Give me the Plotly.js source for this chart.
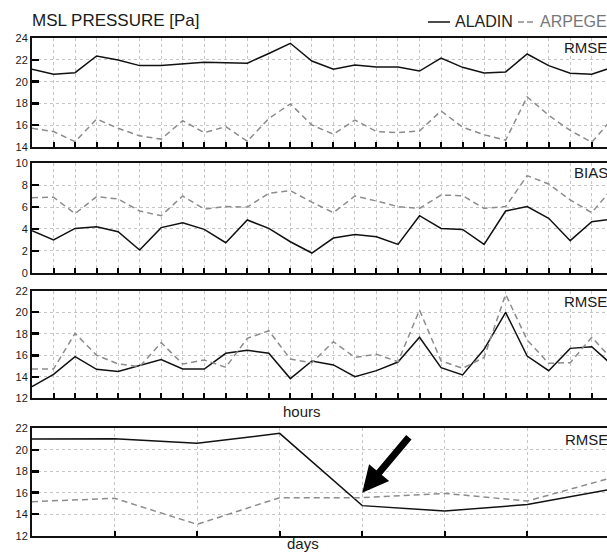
<!DOCTYPE html>
<html>
<head>
<meta charset="utf-8">
<script src="https://cdn.plot.ly/plotly-3.0.1.min.js"></script>
<style>
  html, body { margin: 0; padding: 0; background: #fff; overflow: hidden; }
  #chart { width: 607px; height: 552px; }
</style>
</head>
<body>
<div id="chart"></div>
<script>
// ---- data ----
const hours = [0,1,2,3,4,5,6,7,8,9,10,11,12,13,14,15,16,17,18,19,20,21,22,23,24,25,26,27];
const days  = [0,1,2,3,4,5,6,7];

const aladinRmseHours = [21.14,20.68,20.83,22.37,22.0,21.48,21.48,21.66,21.8,21.75,21.7,22.6,23.54,21.9,21.14,21.54,21.35,21.35,20.98,22.18,21.32,20.8,20.9,22.55,21.48,20.77,20.68,21.35];
const arpegeRmseHours = [15.7,15.4,14.46,16.55,15.7,15.0,14.7,16.4,15.3,15.85,14.5,16.6,17.95,16.0,15.15,16.46,15.4,15.3,15.45,17.3,15.8,15.1,14.6,18.6,16.9,15.5,14.4,16.7];

const aladinBiasHours = [3.84,2.99,4.05,4.2,3.75,2.07,4.12,4.57,3.96,2.74,4.82,4.05,2.83,1.8,3.17,3.5,3.29,2.59,5.21,4.05,3.96,2.59,5.64,6.04,4.97,2.93,4.66,4.9];
const arpegeBiasHours = [6.86,6.9,5.4,6.95,6.74,5.64,5.21,7.01,5.82,6.04,6.0,7.26,7.5,6.45,5.49,7.01,6.55,6.04,5.88,7.1,7.04,5.88,6.04,8.87,8.11,6.65,5.49,7.8];

const aladinRmse2Hours = [13.08,14.23,15.87,14.69,14.5,15.07,15.6,14.72,14.72,16.18,16.46,16.18,13.83,15.47,15.1,14.0,14.57,15.37,17.67,14.85,14.17,16.55,19.99,15.93,14.57,16.64,16.8,15.0];
const arpegeRmse2Hours = [14.72,14.72,18.04,16.0,15.19,14.94,17.17,15.19,15.56,14.88,17.57,18.28,15.65,15.3,17.26,15.8,16.1,15.4,20.2,15.47,14.79,15.8,21.66,17.42,15.25,15.31,17.67,15.5];

const aladinRmseDays = [21.0,21.03,20.6,21.53,14.8,14.3,14.9,16.3];
const arpegeRmseDays = [15.17,15.48,13.06,15.54,15.54,15.94,15.23,17.35];

const seriesNames = ['ALADIN','ARPEGE'];
const panelLabels = ['RMSE','BIAS','RMSE','RMSE'];
const xAxisLabels = ['hours','days'];
const chartTitle = 'MSL PRESSURE [Pa]';
const arrowTip  = {day: 4.0, value: 16.0};
const arrowTail = {day: 4.58, value: 21.3};

// ---- styling ----
const FONT = 'Liberation Sans, Arial, Helvetica, sans-serif';
const solid = {color:'#111', width:1.5};
const dashed = {color:'#8c8c8c', width:1.5, dash:'6px,4px'};

function pair(x, a, b, xa, ya) {
  return [
    {x:x, y:a, xaxis:xa, yaxis:ya, type:'scatter', mode:'lines', line:solid, name:seriesNames[0], hoverinfo:'skip'},
    {x:x, y:b, xaxis:xa, yaxis:ya, type:'scatter', mode:'lines', line:dashed, name:seriesNames[1], hoverinfo:'skip'}
  ];
}

const traces = [].concat(
  pair(hours, aladinRmseHours, arpegeRmseHours, 'x', 'y'),
  pair(hours, aladinBiasHours, arpegeBiasHours, 'x2', 'y2'),
  pair(hours, aladinRmse2Hours, arpegeRmse2Hours, 'x3', 'y3'),
  pair(days, aladinRmseDays, arpegeRmseDays, 'x4', 'y4')
);

const H = 552, W = 607, L = 32;
function px2py(p){ return 1 - p/H; }
function px2pxp(p){ return (p - L)/(W - L); }

function xax(anchor, range, dtick){
  return {anchor:anchor, domain:[0,1], range:range, tickmode:'linear', tick0:0, dtick:dtick,
    ticks:'inside', ticklen:5, tickwidth:2, tickcolor:'#000', showticklabels:false,
    showline:true, linewidth:2, linecolor:'#111', mirror:true,
    showgrid:true, gridcolor:'#c6c6c6', gridwidth:1, griddash:'3px,3px', zeroline:false, fixedrange:true};
}
function yax(anchor, range, domPx){
  return {anchor:anchor, domain:[px2py(domPx[1]), px2py(domPx[0])], range:range, tickmode:'linear', tick0:range[0], dtick:2,
    ticks:'inside', ticklen:7, tickwidth:2.5, tickcolor:'#000',
    tickfont:{size:11, color:'#1a1a1a', family:FONT},
    showline:true, linewidth:2, linecolor:'#111', mirror:false,
    showgrid:true, gridcolor:'#c6c6c6', gridwidth:1, griddash:'3px,3px', zeroline:false, fixedrange:true};
}

const hoursRange = [0, (W - 31.7)/21.54];
const daysRange = [0, (W - 31.7)/82.6];

function label(text, xpx, ypx, size, anchor, color){
  return {text:text, x:px2pxp(xpx), y:px2py(ypx), xref:'paper', yref:'paper',
    xanchor:anchor||'left', yanchor:'middle', showarrow:false,
    font:{family:FONT, size:size, color:color||'#1a1a1a'}};
}

const layout = {
  width:W, height:H,
  margin:{l:L, r:0, t:0, b:0, pad:0},
  paper_bgcolor:'#fff', plot_bgcolor:'#fff',
  showlegend:false,
  font:{family:FONT, color:'#222'},
  title:{text:chartTitle, xref:'container', yref:'container', x:32/W, y:1-20/H,
         xanchor:'left', yanchor:'middle', font:{family:FONT, size:17, color:'#1a1a1a'}},
  xaxis: xax('y', hoursRange, 1),
  xaxis2: xax('y2', hoursRange, 1),
  xaxis3: xax('y3', hoursRange, 1),
  xaxis4: xax('y4', daysRange, 1),
  yaxis: yax('x', [14,24], [38.3,146.7]),
  yaxis2: yax('x2', [0,10], [163.3,272.7]),
  yaxis3: yax('x3', [12,22], [290.7,398.3]),
  yaxis4: yax('x4', [12,22], [428.3,535.7]),
  shapes:[
    {type:'line', xref:'paper', yref:'paper', x0:px2pxp(428), x1:px2pxp(450), y0:px2py(22), y1:px2py(22), line:{color:'#111', width:1.5}},
    {type:'line', xref:'paper', yref:'paper', x0:px2pxp(518), x1:px2pxp(535), y0:px2py(22), y1:px2py(22), line:{color:'#8c8c8c', width:1.5, dash:'6px,3px'}}
  ],
  annotations:[
    label(seriesNames[0], 453, 22, 16, 'left', '#222'),
    label(seriesNames[1], 538, 22, 16, 'left', '#777'),
    label(panelLabels[0], 562, 48, 15),
    label(panelLabels[1], 572, 173, 15),
    label(panelLabels[2], 562, 301, 15),
    label(panelLabels[3], 563, 439, 15),
    label(xAxisLabels[0], 302, 411, 15, 'center'),
    label(xAxisLabels[1], 303, 543, 15, 'center'),
    {text:'', x:arrowTip.day, y:arrowTip.value, xref:'x4', yref:'y4',
     ax:arrowTail.day, ay:arrowTail.value, axref:'x4', ayref:'y4',
     showarrow:true, arrowhead:2, arrowsize:0.75, arrowwidth:7, arrowcolor:'#000'}
  ]
};

Plotly.newPlot('chart', traces, layout, {staticPlot:true, displayModeBar:false});
</script>
</body>
</html>
